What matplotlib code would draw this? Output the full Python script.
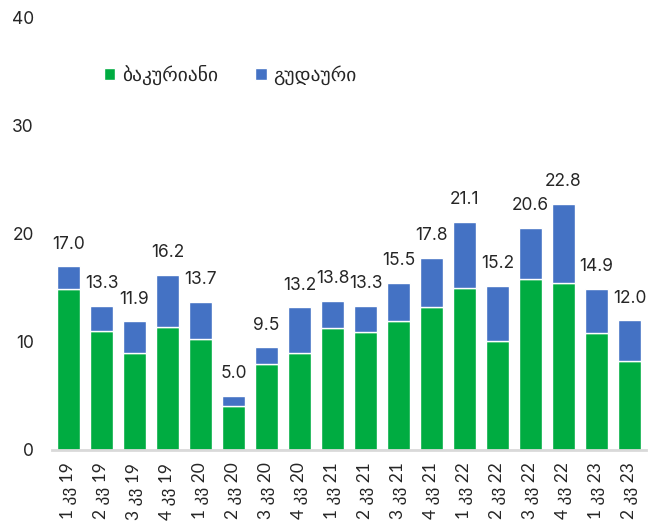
import matplotlib
matplotlib.use("Agg")
import matplotlib.pyplot as plt
import numpy as np

plt.rcParams['font.family'] = ['Inter', 'DejaVu Sans']
geo_family = ['Lato', 'DejaVu Sans']

categories = ["1 კვ 19", "2 კვ 19", "3 კვ 19", "4 კვ 19",
              "1 კვ 20", "2 კვ 20", "3 კვ 20", "4 კვ 20",
              "1 კვ 21", "2 კვ 21", "3 კვ 21", "4 კვ 21",
              "1 კვ 22", "2 კვ 22", "3 კვ 22", "4 კვ 22",
              "1 კვ 23", "2 კვ 23"]
totals = [17.0, 13.3, 11.9, 16.2, 13.7, 5.0, 9.5, 13.2, 13.8, 13.3,
          15.5, 17.8, 21.1, 15.2, 20.6, 22.8, 14.9, 12.0]
bakuriani = [14.9, 11.0, 9.0, 11.4, 10.3, 4.1, 8.0, 9.0, 11.3, 10.9,
             11.9, 13.2, 15.0, 10.1, 15.8, 15.5, 10.8, 8.2]
gudauri = [round(t - b, 1) for t, b in zip(totals, bakuriani)]
series_names = ["ბაკურიანი", "გუდაური"]

green = "#00AC41"
blue = "#4472C4"
text_color = "#262626"

fig = plt.figure(figsize=(6.49, 5.26), dpi=100)
ax = fig.add_axes([52/649, 1 - 450/526, 594/649, 432/526])

x = np.arange(len(categories))
ax.bar(x, bakuriani, width=0.7, color=green, edgecolor="white", linewidth=1.0, label=series_names[0])
ax.bar(x, gudauri, width=0.7, bottom=bakuriani, color=blue, edgecolor="white", linewidth=1.0, label=series_names[1])

for xi, t in zip(x, totals):
    ax.annotate(f"{t:.1f}", (xi, t), xytext=(0, 10), textcoords="offset points",
                ha="center", va="bottom", fontsize=12.5, color=text_color)

ax.set_xlim(-0.5, 17.5)
ax.set_ylim(0, 40)
ax.set_yticks([0, 10, 20, 30, 40])
ax.set_xticks(x)
ax.set_xticklabels(categories, rotation=90, fontsize=12.5, family=geo_family)
ax.tick_params(axis="both", length=0, labelsize=12.5, colors=text_color)
ax.tick_params(axis="y", pad=13)
ax.tick_params(axis="x", pad=9)
for s in ["top", "right", "left"]:
    ax.spines[s].set_visible(False)
ax.spines["bottom"].set_color("#d9d9d9")
ax.spines["bottom"].set_linewidth(2)

leg = ax.legend(loc="center left", bbox_to_anchor=(34/594, (450-75)/432),
                ncol=2, frameon=False, prop={'family': geo_family, 'size': 14},
                handlelength=0.6, handleheight=0.6,
                handletextpad=0.35, columnspacing=1.9)
for t in leg.get_texts():
    t.set_color(text_color)

fig.savefig("out.png", dpi=100)
